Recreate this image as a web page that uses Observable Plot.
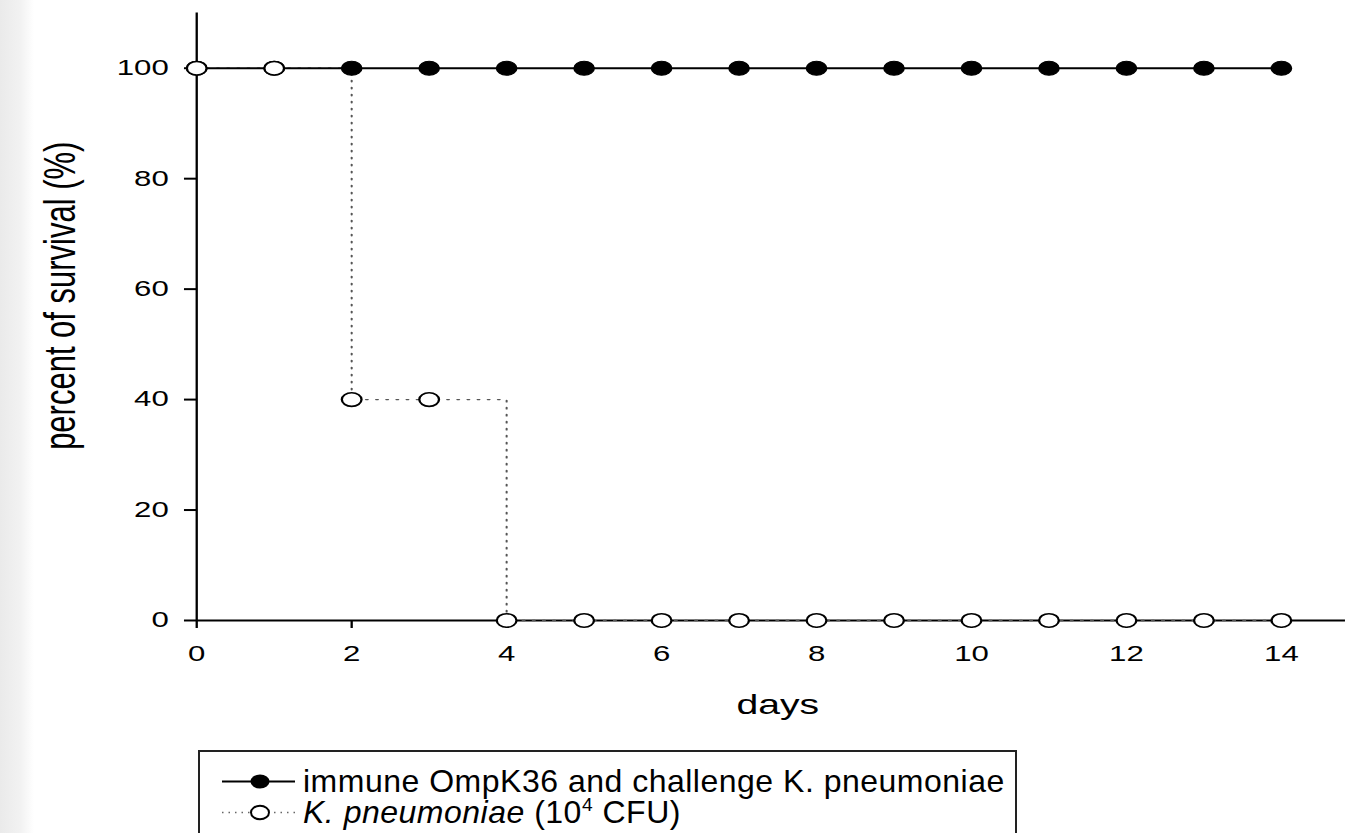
<!DOCTYPE html>
<html>
<head>
<meta charset="utf-8">
<script src="https://cdn.jsdelivr.net/npm/d3@7"></script>
<script src="https://cdn.jsdelivr.net/npm/@observablehq/plot@0.6"></script>
<style>
html, body { margin: 0; padding: 0; background: #fff; width: 1347px; height: 833px; overflow: hidden;
  font-family: "Liberation Sans", Arial, Helvetica, sans-serif; }
#strip { position: absolute; left: 0; top: 0; width: 34px; height: 833px;
  background: linear-gradient(to right, #eaeaea, #f2f2f2 60%, #ffffff); }
#chart { position: absolute; left: 0; top: 0; }
#chart svg { display: block; transform-origin: 0 0; }
#legend { position: absolute; left: 198px; top: 750px; width: 819px; height: 140px;
  border: 2px solid #222; box-sizing: border-box; padding-top: 14px; background: #fff; }
.row { display: flex; align-items: center; height: 31px; font-size: 32px; line-height: 31px;
  letter-spacing: 0.5px; color: #000; white-space: nowrap; }
.row svg { margin-left: 22px; margin-right: 6px; flex: none; }
.row .lbl { display: inline-block; height: 31px; line-height: 31px; }
.row sup { font-size: 0.6em; vertical-align: 0.6em; line-height: 0; }
</style>
</head>
<body>
<div id="strip"></div>
<div id="chart"></div>
<div id="legend"></div>
<script>
// ---- data ----
const days = [0, 1, 2, 3, 4, 5, 6, 7, 8, 9, 10, 11, 12, 13, 14];
const immunePct = [100, 100, 100, 100, 100, 100, 100, 100, 100, 100, 100, 100, 100, 100, 100];
const controlPct = [100, 100, 40, 40, 0, 0, 0, 0, 0, 0, 0, 0, 0, 0, 0];
const xTicks = [0, 2, 4, 6, 8, 10, 12, 14];
const yTicks = [0, 20, 40, 60, 80, 100];
const xAxisEnd = 14.83;
const yAxisTop = 110;
const xLabel = "days";
const yLabel = "percent of survival (%)";
const seriesNames = ["immune OmpK36 and challenge K. pneumoniae", "K. pneumoniae (10^4 CFU)"];

// ---- layout (the original figure is stretched horizontally) ----
const S = 1.45;
const W = 1347 / S;
const font = '"Liberation Sans", Arial, Helvetica, sans-serif';

const rows = days.map((d, i) => ({day: d, immune: immunePct[i], control: controlPct[i]}));

const chart = Plot.plot({
  width: W,
  height: 730,
  marginLeft: 196 / S,
  marginRight: W - 1345 / S,
  marginTop: 12.5,
  marginBottom: 110,
  x: {domain: [0, xAxisEnd]},
  y: {domain: [0, yAxisTop]},
  style: {fontFamily: font, background: "transparent", color: "#000", overflow: "visible"},
  marks: [
    Plot.axisX(xTicks, {tickSize: 8, tickPadding: 17, fontSize: 21.5, strokeWidth: 1.6, label: null}),
    Plot.axisY(yTicks, {tickSize: 8.3, tickPadding: 11, fontSize: 21.5, strokeWidth: 2, label: null}),
    Plot.ruleX([0], {y1: 0, y2: yAxisTop, stroke: "#000", strokeWidth: 1.6}),
    Plot.ruleY([0], {x1: 0, x2: xAxisEnd, stroke: "#000", strokeWidth: 2}),
    Plot.line(rows, {x: "day", y: "control", curve: "step-after", stroke: "#555",
      strokeWidth: 1.4, strokeDasharray: "1.4,5.6"}),
    Plot.line(rows, {x: "day", y: "immune", stroke: "#000", strokeWidth: 2}),
    Plot.dot(rows, {x: "day", y: "immune", r: 7, fill: "#000", stroke: "#000", strokeWidth: 1}),
    Plot.dot(rows, {x: "day", y: "control", r: 6.8, fill: "#fff", stroke: "#000", strokeWidth: 1.6}),
    Plot.text([yLabel], {text: d => d, frameAnchor: "left", rotate: -90, lineAnchor: "middle",
      textAnchor: "middle", dx: 60 / S - 196 / S, dy: -21, fontSize: 31}),
    Plot.text([xLabel], {text: d => d, frameAnchor: "bottom", lineAnchor: "middle",
      textAnchor: "middle", dx: 777 / S - (196 / S + 1345 / S) / 2, dy: 85, fontSize: 27})
  ]
});
chart.style.transformOrigin = "0 0";
chart.style.transform = `scaleX(${S})`;
document.getElementById("chart").appendChild(chart);

// ---- legend ----
const legend = document.getElementById("legend");
const [n1, n2] = seriesNames;
const m2 = n2.match(/^(K\. pneumoniae) \((\d+)\^(\d+) (.*)\)$/);
legend.innerHTML = `
<div class="row"><svg width="75" height="31"><line x1="0" x2="73" y1="15.5" y2="15.5" stroke="#000" stroke-width="2"/><ellipse cx="38" cy="15.5" rx="9.5" ry="7" fill="#000"/></svg><span class="lbl">${n1}</span></div>
<div class="row"><svg width="75" height="31"><line x1="0" x2="73" y1="15.5" y2="15.5" stroke="#666" stroke-width="1.5" stroke-dasharray="1.5,5"/><ellipse cx="38" cy="15.5" rx="9" ry="6.8" fill="#fff" stroke="#000" stroke-width="2"/></svg><span class="lbl"><i>${m2[1]}</i> (${m2[2]}<sup>${m2[3]}</sup> ${m2[4]})</span></div>`;
</script>
</body>
</html>
